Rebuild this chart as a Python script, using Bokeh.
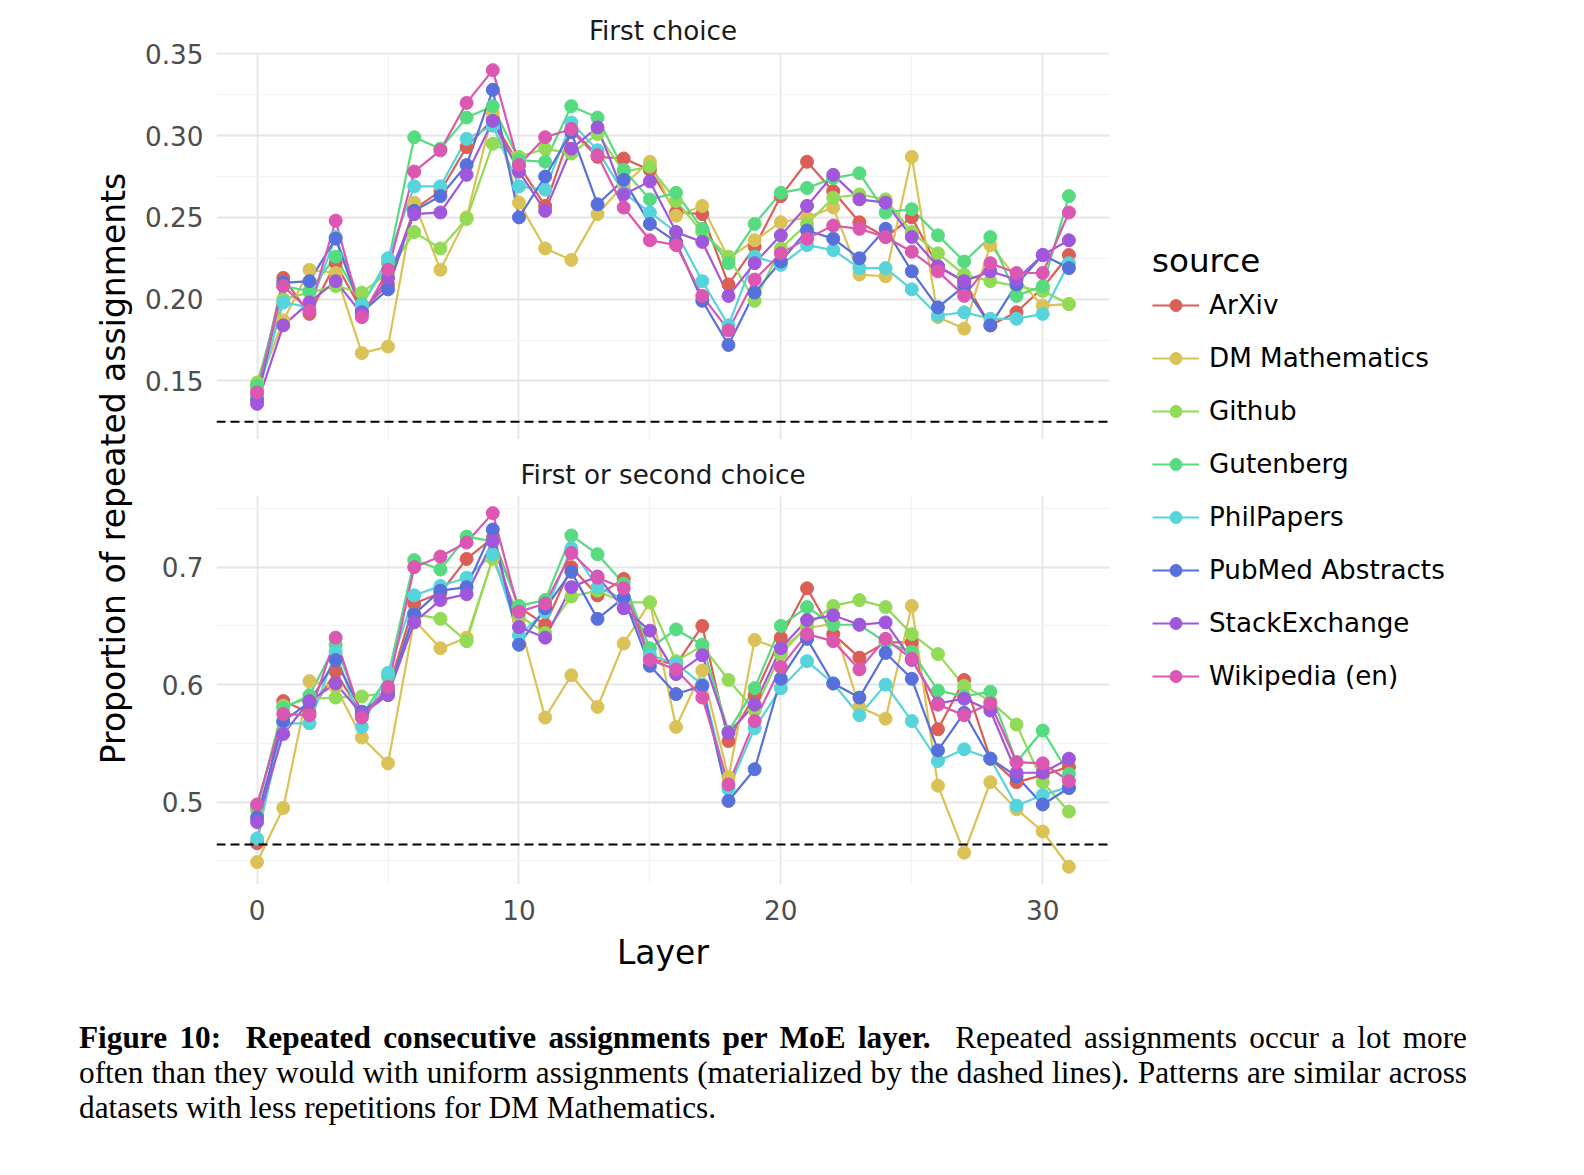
from bokeh.plotting import figure
from bokeh.models import (Span, FixedTicker, PrintfTickFormatter, Legend, LegendItem,
                          Div, Range1d)
from bokeh.layouts import column, row
from bokeh.embed import file_html
from bokeh.resources import INLINE

# ---------------- data ----------------
layers = list(range(32))
source_names = ["ArXiv", "DM Mathematics", "Github", "Gutenberg", "PhilPapers",
                "PubMed Abstracts", "StackExchange", "Wikipedia (en)"]
palette = ["#db5f57", "#dbc257", "#91db57", "#57db80", "#57d3db", "#5770db", "#a157db", "#db57b2"]

# First choice
first_arxiv = [0.141, 0.213, 0.191, 0.222, 0.193, 0.209, 0.255, 0.266, 0.293, 0.310, 0.282, 0.257,
               0.303, 0.287, 0.286, 0.279, 0.253, 0.252, 0.209, 0.232, 0.263, 0.284, 0.266, 0.247,
               0.238, 0.250, 0.220, 0.211, 0.184, 0.192, 0.207, 0.227]
first_dm = [0.145, 0.187, 0.218, 0.216, 0.167, 0.171, 0.259, 0.218, 0.250, 0.314, 0.259, 0.231,
            0.224, 0.252, 0.270, 0.284, 0.251, 0.257, 0.225, 0.236, 0.247, 0.250, 0.256, 0.215,
            0.214, 0.287, 0.189, 0.182, 0.233, 0.213, 0.196, 0.197]
first_github = [0.149, 0.200, 0.204, 0.208, 0.204, 0.216, 0.241, 0.231, 0.249, 0.295, 0.287, 0.292,
                0.289, 0.301, 0.278, 0.281, 0.260, 0.241, 0.226, 0.199, 0.231, 0.246, 0.262, 0.264,
                0.261, 0.241, 0.228, 0.215, 0.211, 0.208, 0.205, 0.197]
first_gutenberg = [0.147, 0.208, 0.205, 0.226, 0.197, 0.222, 0.299, 0.292, 0.311, 0.318, 0.285, 0.284,
                   0.318, 0.311, 0.279, 0.261, 0.265, 0.243, 0.222, 0.246, 0.265, 0.268, 0.274, 0.277,
                   0.253, 0.255, 0.239, 0.223, 0.238, 0.202, 0.208, 0.263]
first_philpapers = [0.140, 0.198, 0.195, 0.238, 0.196, 0.225, 0.269, 0.269, 0.298, 0.306, 0.269, 0.267,
                    0.308, 0.291, 0.265, 0.253, 0.241, 0.211, 0.184, 0.226, 0.221, 0.233, 0.230, 0.219,
                    0.219, 0.206, 0.190, 0.192, 0.188, 0.188, 0.191, 0.222]
first_pubmed = [0.138, 0.210, 0.211, 0.237, 0.192, 0.206, 0.254, 0.263, 0.282, 0.328, 0.250, 0.275,
                0.302, 0.258, 0.273, 0.246, 0.235, 0.199, 0.172, 0.204, 0.223, 0.242, 0.237, 0.225,
                0.243, 0.217, 0.195, 0.208, 0.184, 0.209, 0.227, 0.219]
first_stackexchange = [0.136, 0.184, 0.198, 0.211, 0.191, 0.213, 0.252, 0.253, 0.276, 0.309, 0.278, 0.254,
                       0.292, 0.305, 0.264, 0.272, 0.241, 0.235, 0.202, 0.222, 0.239, 0.257, 0.276, 0.261,
                       0.259, 0.238, 0.220, 0.211, 0.217, 0.212, 0.227, 0.236]
first_wikipedia = [0.143, 0.208, 0.193, 0.248, 0.189, 0.218, 0.278, 0.291, 0.320, 0.340, 0.282, 0.299,
                   0.304, 0.288, 0.256, 0.236, 0.233, 0.202, 0.181, 0.212, 0.228, 0.237, 0.245, 0.243,
                   0.238, 0.229, 0.217, 0.202, 0.222, 0.216, 0.216, 0.253]

# First or second choice
second_arxiv = [0.465, 0.586, 0.576, 0.611, 0.574, 0.595, 0.669, 0.678, 0.707, 0.725, 0.666, 0.651,
                0.700, 0.676, 0.690, 0.622, 0.617, 0.650, 0.552, 0.591, 0.640, 0.682, 0.643, 0.623,
                0.636, 0.636, 0.562, 0.604, 0.537, 0.517, 0.523, 0.530]
second_dm = [0.449, 0.495, 0.603, 0.598, 0.555, 0.533, 0.655, 0.631, 0.640, 0.707, 0.655, 0.572,
             0.608, 0.581, 0.635, 0.670, 0.564, 0.612, 0.521, 0.638, 0.630, 0.648, 0.652, 0.581,
             0.571, 0.667, 0.514, 0.457, 0.517, 0.494, 0.475, 0.445]
second_github = [0.493, 0.582, 0.588, 0.589, 0.590, 0.593, 0.660, 0.656, 0.637, 0.708, 0.659, 0.644,
                 0.675, 0.680, 0.670, 0.670, 0.620, 0.633, 0.604, 0.578, 0.626, 0.650, 0.667, 0.672,
                 0.666, 0.643, 0.626, 0.599, 0.586, 0.566, 0.517, 0.492]
second_gutenberg = [0.496, 0.580, 0.591, 0.634, 0.574, 0.607, 0.706, 0.698, 0.726, 0.722, 0.667, 0.672,
                    0.727, 0.711, 0.686, 0.631, 0.647, 0.634, 0.560, 0.597, 0.650, 0.666, 0.651, 0.651,
                    0.636, 0.628, 0.595, 0.590, 0.594, 0.534, 0.561, 0.524]
second_philpapers = [0.469, 0.567, 0.567, 0.628, 0.564, 0.610, 0.676, 0.684, 0.691, 0.711, 0.642, 0.662,
                     0.716, 0.683, 0.673, 0.625, 0.618, 0.600, 0.511, 0.563, 0.597, 0.620, 0.601, 0.574,
                     0.600, 0.569, 0.535, 0.545, 0.537, 0.497, 0.506, 0.513]
second_pubmed = [0.487, 0.569, 0.585, 0.621, 0.577, 0.593, 0.660, 0.680, 0.683, 0.732, 0.634, 0.665,
                 0.696, 0.656, 0.674, 0.616, 0.592, 0.599, 0.501, 0.528, 0.605, 0.639, 0.601, 0.589,
                 0.627, 0.605, 0.544, 0.576, 0.537, 0.522, 0.498, 0.512]
second_stackexchange = [0.483, 0.558, 0.586, 0.601, 0.575, 0.591, 0.653, 0.672, 0.677, 0.722, 0.649, 0.640,
                        0.683, 0.692, 0.665, 0.646, 0.609, 0.625, 0.559, 0.583, 0.631, 0.655, 0.659, 0.651,
                        0.653, 0.621, 0.584, 0.588, 0.578, 0.525, 0.525, 0.537]
second_wikipedia = [0.498, 0.575, 0.574, 0.640, 0.572, 0.598, 0.700, 0.709, 0.721, 0.746, 0.662, 0.669,
                    0.712, 0.691, 0.682, 0.621, 0.613, 0.589, 0.515, 0.569, 0.615, 0.643, 0.637, 0.613,
                    0.639, 0.622, 0.583, 0.574, 0.584, 0.534, 0.533, 0.518]

first_series = [first_arxiv, first_dm, first_github, first_gutenberg, first_philpapers,
                first_pubmed, first_stackexchange, first_wikipedia]
second_series = [second_arxiv, second_dm, second_github, second_gutenberg, second_philpapers,
                 second_pubmed, second_stackexchange, second_wikipedia]

uniform_first = 0.125
uniform_second = 0.464

x_ticks = [0, 10, 20, 30]
x_minor = [5, 15, 25]
y1_ticks = [0.15, 0.20, 0.25, 0.30, 0.35]
y1_minor = [0.125, 0.175, 0.225, 0.275, 0.325]
y2_ticks = [0.5, 0.6, 0.7]
y2_minor = [0.45, 0.55, 0.65, 0.75]

FONT = "DejaVu Sans"
MAJOR_GRID = "#E6E6E6"
MINOR_GRID = "#F3F3F3"
TICK_SIZE = "26.3px"

x_range = Range1d(-1.55, 32.55)


def style_panel(p, yticks, yminor, fmt, title_standoff):
    p.outline_line_color = None
    p.background_fill_color = "white"
    p.title.align = "center"
    p.title.text_font = FONT
    p.title.text_font_size = "26.2px"
    p.title.text_font_style = "normal"
    p.title.text_color = "#1A1A1A"
    p.title.standoff = title_standoff
    ax = p.yaxis[0]
    ax.ticker = FixedTicker(ticks=yticks, minor_ticks=yminor)
    ax.formatter = PrintfTickFormatter(format=fmt)
    ax.axis_line_color = None
    ax.major_tick_line_color = None
    ax.minor_tick_line_color = None
    ax.major_tick_out = 0
    ax.minor_tick_out = 0
    ax.major_label_text_font = FONT
    ax.major_label_text_font_size = TICK_SIZE
    ax.major_label_text_color = "#4D4D4D"
    ax.major_label_standoff = 13
    for g in (p.xgrid[0], p.ygrid[0]):
        g.grid_line_color = MAJOR_GRID
        g.grid_line_width = 1.8
        g.minor_grid_line_color = MINOR_GRID
        g.minor_grid_line_width = 1.2
    p.xgrid[0].ticker = FixedTicker(ticks=x_ticks, minor_ticks=x_minor)


def draw_series(p, series_list, baseline):
    for vals, col in zip(series_list, palette):
        p.line(layers, vals, line_color=col, line_width=2.2)
    for vals, col in zip(series_list, palette):
        p.scatter(layers, vals, size=13, fill_color=col, line_color=col)
    p.add_layout(Span(location=baseline, dimension="width", line_color="black",
                      line_width=2, line_dash="9 5"))


PW = 983  # panel figure width
# ---------------- top panel ----------------
p1 = figure(width=PW, height=439, x_range=x_range, y_range=Range1d(0.1142, 0.3508),
            output_backend="svg", toolbar_location=None, x_axis_location=None,
            min_border_left=78, min_border_right=12, min_border_top=52, min_border_bottom=0,
            title="First choice")
style_panel(p1, y1_ticks, y1_minor, "%.2f", 13)
draw_series(p1, first_series, uniform_first)

# ---------------- bottom panel ----------------
p2 = figure(width=PW, height=541, x_range=x_range, y_range=Range1d(0.4299, 0.761),
            output_backend="svg", toolbar_location=None,
            min_border_left=78, min_border_right=12, min_border_top=56, min_border_bottom=96,
            title="First or second choice")
style_panel(p2, y2_ticks, y2_minor, "%.1f", 12)
xa = p2.xaxis[0]
xa.ticker = FixedTicker(ticks=x_ticks, minor_ticks=x_minor)
xa.axis_line_color = None
xa.major_tick_line_color = None
xa.minor_tick_line_color = None
xa.major_tick_out = 0
xa.minor_tick_out = 0
xa.major_label_text_font = FONT
xa.major_label_text_font_size = TICK_SIZE
xa.major_label_text_color = "#4D4D4D"
xa.major_label_standoff = 15
xa.axis_label = "Layer"
xa.axis_label_text_font = FONT
xa.axis_label_text_font_size = "33px"
xa.axis_label_text_font_style = "normal"
xa.axis_label_text_color = "#000000"
xa.axis_label_standoff = 10
draw_series(p2, second_series, uniform_second)

TOTAL_H = 439 + 541
SIDE_TOP = 242      # shared top border of the side figures (they are aligned in the row)
SIDE_BOTTOM = 286   # shared bottom border of the side figures

# ---------------- shared y label (an axis title spanning both panels) ----------------
ylab = figure(width=138, height=TOTAL_H, x_range=Range1d(0, 1), y_range=Range1d(0, 1),
              output_backend="svg", toolbar_location=None, x_axis_location=None,
              min_border_left=132, min_border_right=0,
              min_border_top=SIDE_TOP, min_border_bottom=SIDE_BOTTOM)
ylab.outline_line_color = None
ylab.grid.visible = False
ya = ylab.yaxis[0]
ya.ticker = FixedTicker(ticks=[])
ya.axis_line_color = None
ya.major_tick_out = 0
ya.minor_tick_out = 0
ya.major_tick_line_color = None
ya.minor_tick_line_color = None
ya.major_label_text_font_size = "0px"
ya.axis_label = "Proportion of repeated assignments"
ya.axis_label_text_font = FONT
ya.axis_label_text_font_size = "33px"
ya.axis_label_text_font_style = "normal"
ya.axis_label_text_color = "#000000"
ya.axis_label_standoff = 0

# ---------------- legend ----------------
leg = figure(width=440, height=TOTAL_H, x_range=Range1d(0, 1), y_range=Range1d(0, 1),
             output_backend="svg", toolbar_location=None,
             x_axis_location=None, y_axis_location=None,
             min_border_left=31, min_border_right=0,
             min_border_top=SIDE_TOP, min_border_bottom=SIDE_BOTTOM)
leg.outline_line_color = None
leg.grid.visible = False
items = []
for name, vals, col in zip(source_names, first_series, palette):
    lr = leg.line(layers, vals, line_color=col, line_width=2, visible=False)
    sr = leg.scatter(layers, vals, size=12, fill_color=col, line_color=col, visible=False)
    items.append(LegendItem(label=name, renderers=[lr, sr]))
legend = Legend(items=items, location="top_left", title="source", margin=0, padding=0,
                border_line_color=None, background_fill_alpha=0,
                title_text_font=FONT, title_text_font_size="32.6px", title_text_font_style="normal",
                title_text_color="#000000", title_standoff=10,
                label_text_font=FONT, label_text_font_size="26.2px", label_text_color="#000000",
                glyph_width=47, glyph_height=30, label_height=30, label_standoff=10, spacing=23)
leg.add_layout(legend)

# ---------------- caption ----------------
caption_html = (
    '<div style="width:1388px; margin-left:74px; margin-top:35px; font-family:\'Liberation Serif\', serif;'
    ' font-size:31.3px; line-height:35px; color:#000;">'
    '<div style="text-align:justify; text-align-last:justify; white-space:nowrap;">'
    '<b>Figure 10:&nbsp; Repeated consecutive assignments per MoE layer.</b>&nbsp; '
    'Repeated assignments occur a lot more</div>'
    '<div style="text-align:justify; text-align-last:justify; white-space:nowrap;">'
    'often than they would with uniform assignments (materialized by the dashed lines). '
    'Patterns are similar across</div>'
    '<div style="white-space:nowrap;">datasets with less repetitions for DM Mathematics.</div>'
    '</div>'
)
caption = Div(text=caption_html, width=1540, height=160)

layout = column(row(ylab, column(p1, p2, spacing=0), leg, spacing=0), caption, spacing=0)

open("out.html", "w").write(file_html(layout, INLINE))
